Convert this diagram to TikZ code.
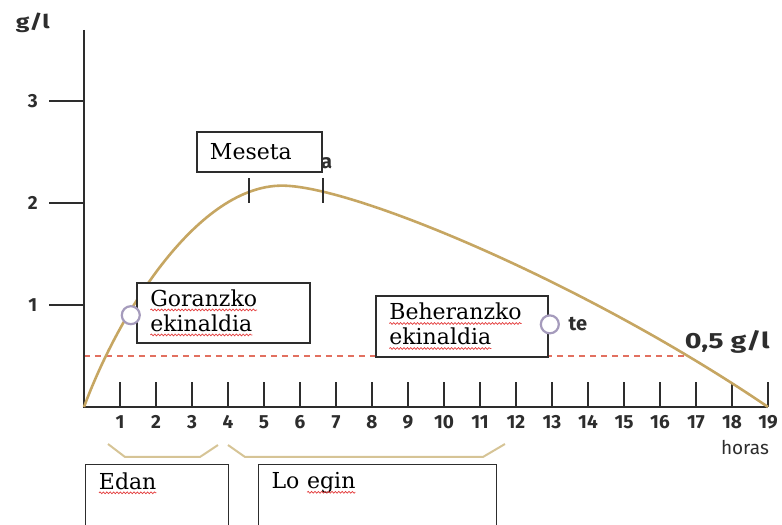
\documentclass[tikz,border=0pt]{standalone}
\usepackage{fontspec}
\setmainfont{DejaVu Serif}
\newfontfamily\axisfont{Fira Sans}
\usepackage{graphicx}
\usepackage{tikz}
\usetikzlibrary{calc,positioning,decorations.pathmorphing}
\definecolor{axisgray}{RGB}{45,45,45}
\definecolor{curvetan}{RGB}{198,166,98}
\definecolor{bracetan}{RGB}{214,196,150}
\definecolor{dashred}{RGB}{226,112,96}
\definecolor{ringgray}{RGB}{165,155,188}
\definecolor{spellred}{RGB}{228,60,60}
\newcommand\redwave[1]{\tikz[baseline=(word.base)]{\node[draw=none, fill=none, inner sep=0pt, outer sep=0pt, minimum size=0pt, text width={}, text depth={}, text height={}, anchor=base] (word) {#1};
	\draw[spellred, line width=0.7pt, decorate, decoration={snake, amplitude=0.9pt, segment length=3.4pt}] ([yshift=-3.5pt]word.base west) -- ([yshift=-3.5pt]word.base east);}}
\newcommand\wide[1]{\scalebox{1.3}[1]{#1}}
\tikzstyle{axis}      = [line width=2.6pt, draw=axisgray]
\tikzstyle{hourtick}  = [line width=2.6pt, draw=axisgray]
\tikzstyle{hour}      = [font=\axisfont\bfseries\fontsize{19}{19}\selectfont, text=axisgray]
\tikzstyle{level}     = [font=\axisfont\bfseries\fontsize{19}{19}\selectfont, text=axisgray]
\tikzstyle{stage}     = [draw=axisgray, line width=1.2pt, fill=white, align=left, inner xsep=13pt, font=\fontsize{22}{25}\selectfont]
\tikzstyle{phase}     = [draw=axisgray, line width=1.2pt, fill=white, anchor=north west, inner xsep=13pt, inner ysep=8pt, text depth=60pt, font=\fontsize{22}{25}\selectfont]
\tikzstyle{ring}      = [circle, draw=ringgray, line width=2.2pt, fill=white, minimum size=18pt, inner sep=0pt]
\tikzstyle{spanline}  = [line width=2pt, draw=bracetan, line join=round]
\tikzstyle{leftover}  = [font=\axisfont\bfseries\fontsize{20}{20}\selectfont, text=axisgray]

\begin{document}
\begin{tikzpicture}[x=36pt,y=102pt]
		\useasboundingbox (-2.333,-1.157) rectangle (19.389,3.990);

		\coordinate (dashstart) at (0,0.5);
		\coordinate (dashend) at (16.7,0.5);
		\draw[dashred, line width=1.3pt, dash pattern=on 6pt off 5pt] (dashstart) -- (dashend);

		\draw[axis] (0,3.696) -- (0,0) -- (19,0);
		\foreach \g in {1,2,3}
		{
			\draw[axis] (-0.97,\g) -- (0,\g);
			\draw (-1.42,\g) node[level] (lev\g) {\g};
		}
		\draw (-1.42,3.77) node[level] (unit) {\wide{g/l}};

		\foreach \h in {1,...,19}
		{
			\draw[hourtick] (\h,0) -- (\h,0.245);
			\draw (\h,-0.147) node[hour] (h\h) {\h};
		}
		\draw (18.36,-0.40) node[hour, font=\axisfont\fontsize{19}{19}\selectfont] (horas) {horas};

		\draw (6.74,2.39) node[leftover] (resta) {a};
		\draw (13.72,0.814) node[leftover] (restte) {te};
		\draw (17.87,0.637) node[leftover, font=\axisfont\bfseries\fontsize{22}{22}\selectfont] (limit) {\wide{0,5 g/l}};

		\coordinate (start) at (0,0);
		\coordinate (peak) at (5.5,2.17);
		\coordinate (finish) at (19,0);
		\draw[curvetan, line width=2.6pt] (start) .. controls (1.0,0.95) and (3.2,2.17) .. (peak) .. controls (7.5,2.17) and (14,1.2) .. (finish);

		\draw[axis] (4.58,2.0) -- (4.58,2.245);
		\draw[axis] (6.64,2.0) -- (6.64,2.245);

		\draw (4.875,2.5) node[stage, minimum width=125pt, minimum height=40pt, text width=99pt] (meseta) {Meseta};
		\draw (3.875,0.922) node[stage, minimum width=173pt, minimum height=60pt, text width=147pt] (goranzko) {\redwave{Goranzko}\\\redwave{ekinaldia}};
		\draw (10.5,0.789) node[stage, minimum width=172pt, minimum height=61pt, text width=146pt] (beheranzko) {\redwave{Beheranzko}\\\redwave{ekinaldia}};

		\draw (1.3,0.9) node[ring] (ringup) {};
		\draw (12.94,0.81) node[ring] (ringdown) {};

		\draw[spanline] (0.667,-0.363) -- (1.139,-0.490) -- (3.222,-0.490) -- (3.722,-0.373);
		\draw[spanline] (4,-0.373) -- (4.472,-0.490) -- (11.083,-0.490) -- (11.694,-0.363);

		\draw (0.028,-0.559) node[phase, text width=117pt] (edan) {\redwave{Edan}};
		\draw (4.833,-0.559) node[phase, text width=212pt] (loegin) {Lo \redwave{egin}};
	\end{tikzpicture}
\end{document}
